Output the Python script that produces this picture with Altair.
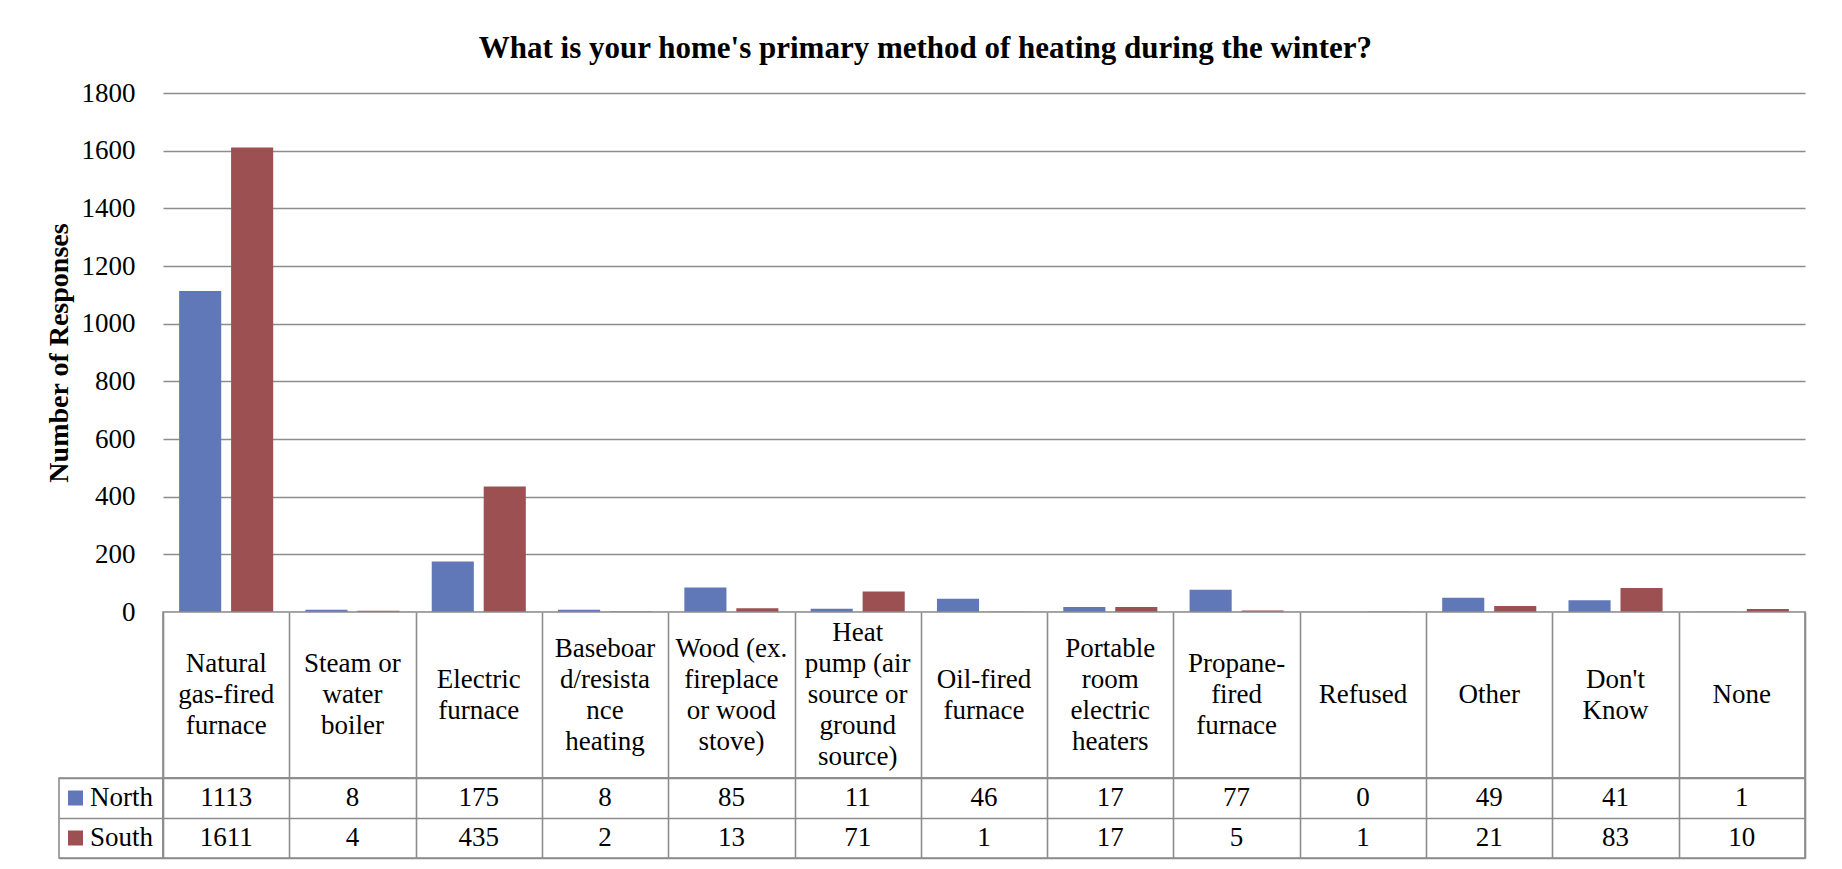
import altair as alt
import pandas as pd

categories = [
    "Natural gas-fired furnace", "Steam or water boiler", "Electric furnace",
    "Baseboard/resistance heating", "Wood (ex. fireplace or wood stove)",
    "Heat pump (air source or ground source)", "Oil-fired furnace",
    "Portable room electric heaters", "Propane-fired furnace", "Refused",
    "Other", "Don't Know", "None",
]
labels = [
    "Natural\ngas-fired\nfurnace", "Steam or\nwater\nboiler", "Electric\nfurnace",
    "Baseboar\nd/resista\nnce\nheating", "Wood (ex.\nfireplace\nor wood\nstove)",
    "Heat\npump (air\nsource or\nground\nsource)", "Oil-fired\nfurnace",
    "Portable\nroom\nelectric\nheaters", "Propane-\nfired\nfurnace", "Refused",
    "Other", "Don't\nKnow", "None",
]
north = [1113, 8, 175, 8, 85, 11, 46, 17, 77, 0, 49, 41, 1]
south = [1611, 4, 435, 2, 13, 71, 1, 17, 5, 1, 21, 83, 10]
series = ["North", "South"]
colors = ["#6178B8", "#9D5052"]
y_ticks = [0, 200, 400, 600, 800, 1000, 1200, 1400, 1600, 1800]

rows = []
for c, n, s in zip(categories, north, south):
    rows.append({"cat": c, "series": "North", "value": n})
    rows.append({"cat": c, "series": "South", "value": s})
df = pd.DataFrame(rows)
hdr = pd.DataFrame({"cat": categories, "label": labels})
# vertical position of the first line (in line units above the cell middle)
hdr["first"] = hdr["label"].str.count("\n") / 2.0
leg_df = pd.DataFrame({"series": series})

FONT = "Liberation Serif"
GRID = "#8c8c8c"
W = 1642
LEFTW = 104
HDR_H = 166
LINE_H = 31

xscale = alt.Scale(domain=categories, paddingInner=0, paddingOuter=0)
color = alt.Color("series:N", scale=alt.Scale(domain=series, range=colors), legend=None)
rowscale = alt.Scale(domain=series, paddingInner=0, paddingOuter=0)
table_view = alt.ViewBackground(stroke=GRID, strokeWidth=1.6, strokeOpacity=1, fill="white")


def band_axis():
    return alt.Axis(grid=True, tickBand="extent", labels=False, ticks=False,
                    domain=False, title="", gridColor=GRID, gridWidth=1.6)


bars = alt.Chart(df).mark_bar().encode(
    x=alt.X("cat:N", scale=xscale, axis=None),
    xOffset=alt.XOffset("series:N", scale=alt.Scale(domain=series, paddingInner=0.19, paddingOuter=0.31)),
    y=alt.Y("value:Q", scale=alt.Scale(domain=[0, 1800], nice=False),
            axis=alt.Axis(values=y_ticks, format="d", title="Number of Responses", grid=True,
                          gridColor=GRID, gridWidth=1.5, domain=False, ticks=False,
                          labelPadding=28, labelFontSize=27, labelFont=FONT,
                          labelColor="black", titleFont=FONT, titleFontSize=28,
                          titleFontWeight="bold", titleColor="black", titlePadding=8)),
    color=color,
).properties(width=W, height=519)


def spacer(h):
    return alt.Chart(leg_df).mark_point(opacity=0).encode(
        x=alt.value(0), y=alt.value(0)
    ).properties(width=LEFTW, height=h)


half = HDR_H / 2.0 / LINE_H
header = alt.Chart(hdr).mark_text(font=FONT, fontSize=27, lineBreak="\n",
                                  lineHeight=LINE_H, baseline="middle", color="black").encode(
    x=alt.X("cat:N", scale=xscale, axis=band_axis()),
    y=alt.Y("first:Q", scale=alt.Scale(domain=[-half, half], nice=False, zero=False), axis=None),
    text="label:N",
).properties(width=W, height=HDR_H, view=table_view)

vals = alt.Chart(df).mark_text(font=FONT, fontSize=27, baseline="middle", color="black").encode(
    x=alt.X("cat:N", scale=xscale, axis=band_axis()),
    y=alt.Y("series:N", scale=rowscale, axis=band_axis()),
    text="value:Q",
).properties(width=W, height=80, view=table_view)

leg_base = alt.Chart(leg_df).encode(
    y=alt.Y("series:N", scale=rowscale, axis=band_axis()),
)
leg = alt.layer(
    leg_base.mark_square(size=225, opacity=1).encode(x=alt.value(16.5), color=color),
    leg_base.mark_text(font=FONT, fontSize=27, align="left", baseline="middle",
                       color="black").encode(x=alt.value(31), text="series:N"),
).properties(width=LEFTW, height=80, view=table_view)

chart = alt.concat(
    spacer(519), bars,
    spacer(HDR_H), header,
    leg, vals,
    columns=2, spacing=0, bounds="flush", align="each",
).properties(
    title=alt.Title("What is your home's primary method of heating during the winter?",
                    font=FONT, fontSize=31, fontWeight="bold", color="black",
                    anchor="middle", offset=14),
    padding={"left": 45, "top": 33, "right": 30, "bottom": 8},
    background="white",
).configure_view(strokeOpacity=0)

chart.save("out.html", embed_options={"renderer": "svg", "actions": False})
